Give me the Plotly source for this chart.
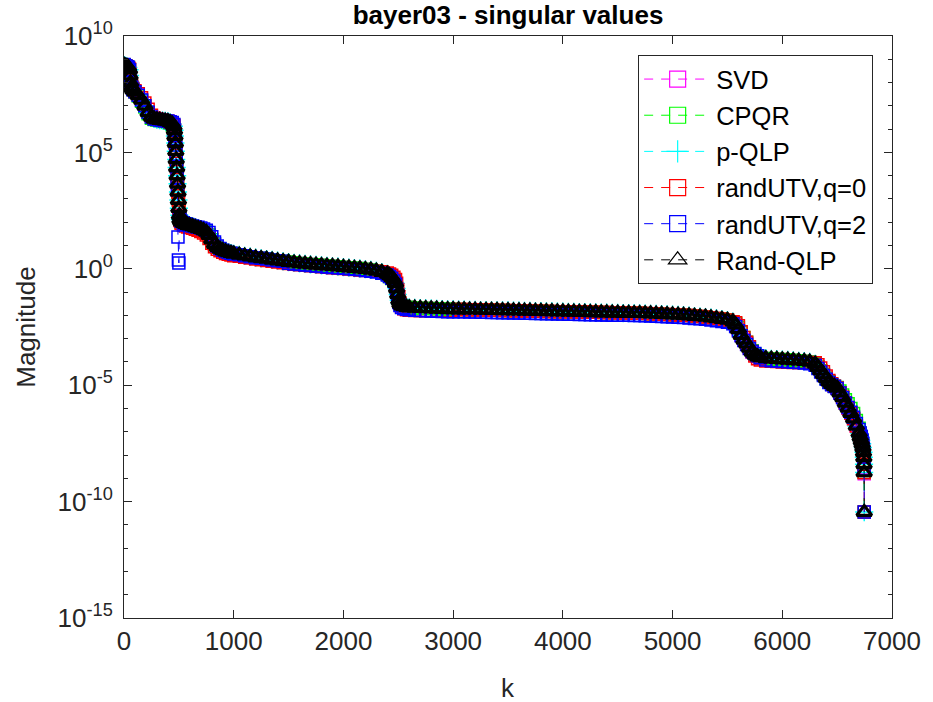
import plotly.graph_objects as go

k = [
    1, 10, 20, 30, 40, 50, 55, 60, 70, 80, 100, 130, 160, 190, 220, 250, 275, 300, 325, 350, 375, 400, 420, 440, 455,
    460, 464, 468, 472, 476, 480, 484, 488, 492, 496, 500, 505,
    510, 520, 540, 560, 580, 600, 625, 650, 675, 700, 725, 750, 775, 800, 825, 850, 875, 900, 925, 950, 975, 1000,
    1050, 1100, 1150, 1200, 1250, 1300, 1350, 1400, 1450, 1500, 1550, 1600, 1650, 1700, 1750, 1800, 1850, 1900,
    1950, 2000, 2050, 2100, 2150, 2200, 2250, 2300, 2350, 2400,
    2420, 2440, 2460, 2475, 2485, 2495, 2505, 2515, 2530, 2550, 2575, 2600,
    2650, 2700, 2750, 2800, 2850, 2900, 2950, 3000, 3050, 3100, 3150, 3200, 3250, 3300, 3350, 3400, 3450, 3500,
    3550, 3600, 3650, 3700, 3750, 3800, 3850, 3900, 3950, 4000, 4050, 4100, 4150, 4200, 4250, 4300, 4350, 4400,
    4450, 4500, 4550, 4600, 4650, 4700, 4750, 4800, 4850, 4900, 4950, 5000, 5050, 5100, 5150, 5200, 5250, 5300,
    5350, 5400, 5450, 5500, 5550,
    5575, 5600, 5625, 5650, 5675, 5700, 5725, 5750, 5775, 5800, 5850,
    5900, 5950, 6000, 6050, 6100, 6150, 6200, 6250, 6300,
    6325, 6350, 6375, 6400, 6425, 6450, 6475, 6500, 6525, 6550, 6575, 6600, 6625, 6650, 6675, 6700,
    6710, 6720, 6728, 6735, 6740, 6743, 6745, 6746, 6747,
]

# values are log10 of the singular value (exponent)
svd_log = [
    8.75, 8.72, 8.70, 8.68, 8.65, 8.55, 8.30, 8.00, 7.80, 7.70, 7.60, 7.45, 7.25, 7.00, 6.72, 6.52, 6.44, 6.41, 6.39, 6.37, 6.35, 6.33, 6.29, 6.23, 6.12,
    5.95, 5.70, 5.40, 5.05, 4.70, 4.35, 4.00, 3.65, 3.30, 2.95, 2.60, 2.30,
    2.12, 2.02, 1.96, 1.92, 1.88, 1.85, 1.82, 1.78, 1.74, 1.70, 1.65, 1.58, 1.45, 1.25, 1.06, 0.93, 0.85, 0.79, 0.74, 0.70, 0.67, 0.64,
    0.60, 0.56, 0.52, 0.48, 0.45, 0.42, 0.38, 0.35, 0.32, 0.29, 0.26, 0.23, 0.21, 0.19, 0.17, 0.15, 0.13, 0.11,
    0.09, 0.07, 0.05, 0.03, 0.01, -0.02, -0.05, -0.09, -0.14, -0.22,
    -0.28, -0.36, -0.48, -0.62, -0.85, -1.10, -1.35, -1.50, -1.58, -1.62, -1.65, -1.67,
    -1.68, -1.69, -1.70, -1.71, -1.72, -1.73, -1.74, -1.74, -1.75, -1.75, -1.76, -1.76, -1.77, -1.77, -1.78, -1.78, -1.79, -1.79,
    -1.80, -1.80, -1.81, -1.81, -1.82, -1.82, -1.83, -1.83, -1.84, -1.84, -1.85, -1.85, -1.86, -1.86, -1.87, -1.87, -1.88, -1.88,
    -1.89, -1.89, -1.90, -1.90, -1.91, -1.91, -1.92, -1.93, -1.94, -1.95, -1.96, -1.97, -1.98, -1.99, -2.01, -2.03, -2.05, -2.07,
    -2.10, -2.13, -2.16, -2.20, -2.27,
    -2.40, -2.60, -2.85, -3.05, -3.22, -3.40, -3.57, -3.70, -3.77, -3.81, -3.85,
    -3.87, -3.88, -3.90, -3.91, -3.93, -3.95, -3.97, -4.00, -4.08,
    -4.22, -4.38, -4.54, -4.70, -4.85, -4.96, -5.04, -5.12, -5.32, -5.52, -5.76, -5.98, -6.20, -6.44, -6.75, -7.05,
    -7.22, -7.38, -7.52, -7.68, -7.88, -8.10, -8.40, -8.55, -8.80,
]

cpqr_log = [
    8.75, 8.72, 8.70, 8.68, 8.65, 8.55, 8.30, 8.00, 7.80, 7.70, 7.60, 7.42, 7.20, 6.95, 6.66, 6.47, 6.41, 6.39, 6.37, 6.35, 6.33, 6.30, 6.25, 6.18, 6.05,
    5.95, 5.70, 5.40, 5.05, 4.70, 4.35, 4.00, 3.65, 3.30, 2.95, 2.60, 2.30,
    2.12, 2.02, 1.96, 1.92, 1.88, 1.85, 1.82, 1.78, 1.74, 1.70, 1.65, 1.58, 1.45, 1.25, 1.06, 0.93, 0.85, 0.79, 0.74, 0.70, 0.67, 0.64,
    0.60, 0.56, 0.52, 0.48, 0.45, 0.42, 0.38, 0.35, 0.32, 0.29, 0.26, 0.23, 0.21, 0.19, 0.17, 0.15, 0.13, 0.11,
    0.09, 0.07, 0.05, 0.03, 0.01, -0.02, -0.05, -0.09, -0.14, -0.22,
    -0.33, -0.42, -0.52, -0.65, -0.85, -1.10, -1.35, -1.50, -1.58, -1.62, -1.65, -1.67,
    -1.68, -1.69, -1.70, -1.71, -1.72, -1.73, -1.74, -1.74, -1.75, -1.75, -1.76, -1.76, -1.77, -1.77, -1.78, -1.78, -1.79, -1.79,
    -1.80, -1.80, -1.81, -1.81, -1.82, -1.82, -1.83, -1.83, -1.84, -1.84, -1.85, -1.85, -1.86, -1.86, -1.87, -1.87, -1.88, -1.88,
    -1.89, -1.89, -1.90, -1.90, -1.91, -1.91, -1.92, -1.93, -1.94, -1.95, -1.96, -1.97, -1.98, -1.99, -2.01, -2.03, -2.05, -2.07,
    -2.10, -2.13, -2.16, -2.20, -2.27,
    -2.35, -2.52, -2.72, -2.95, -3.15, -3.35, -3.52, -3.66, -3.75, -3.80, -3.85,
    -3.87, -3.88, -3.90, -3.91, -3.93, -3.95, -3.97, -4.00, -4.08,
    -4.22, -4.38, -4.54, -4.70, -4.85, -4.96, -5.04, -5.10, -5.25, -5.42, -5.62, -5.80, -6.00, -6.22, -6.52, -6.85,
    -7.05, -7.20, -7.40, -7.60, -7.85, -8.10, -8.40, -8.75, -10.45,
]

pqlp_log = [
    8.75, 8.72, 8.70, 8.68, 8.65, 8.55, 8.30, 8.00, 7.80, 7.70, 7.60, 7.45, 7.25, 7.00, 6.72, 6.52, 6.44, 6.41, 6.39, 6.37, 6.35, 6.33, 6.29, 6.23, 6.12,
    5.95, 5.70, 5.40, 5.05, 4.70, 4.35, 4.00, 3.65, 3.30, 2.95, 2.60, 2.30,
    2.12, 2.02, 1.96, 1.92, 1.88, 1.85, 1.82, 1.78, 1.74, 1.70, 1.65, 1.58, 1.45, 1.25, 1.06, 0.93, 0.85, 0.79, 0.74, 0.70, 0.67, 0.64,
    0.60, 0.56, 0.52, 0.48, 0.45, 0.42, 0.38, 0.35, 0.32, 0.29, 0.26, 0.23, 0.21, 0.19, 0.17, 0.15, 0.13, 0.11,
    0.09, 0.07, 0.05, 0.03, 0.01, -0.02, -0.05, -0.09, -0.14, -0.22,
    -0.28, -0.36, -0.48, -0.62, -0.85, -1.10, -1.35, -1.50, -1.58, -1.62, -1.65, -1.67,
    -1.68, -1.69, -1.70, -1.71, -1.72, -1.73, -1.74, -1.74, -1.75, -1.75, -1.76, -1.76, -1.77, -1.77, -1.78, -1.78, -1.79, -1.79,
    -1.80, -1.80, -1.81, -1.81, -1.82, -1.82, -1.83, -1.83, -1.84, -1.84, -1.85, -1.85, -1.86, -1.86, -1.87, -1.87, -1.88, -1.88,
    -1.89, -1.89, -1.90, -1.90, -1.91, -1.91, -1.92, -1.93, -1.94, -1.95, -1.96, -1.97, -1.98, -1.99, -2.01, -2.03, -2.05, -2.07,
    -2.10, -2.13, -2.16, -2.20, -2.27,
    -2.40, -2.60, -2.85, -3.05, -3.22, -3.40, -3.57, -3.70, -3.77, -3.81, -3.85,
    -3.87, -3.88, -3.90, -3.91, -3.93, -3.95, -3.97, -4.00, -4.08,
    -4.22, -4.38, -4.54, -4.70, -4.85, -4.96, -5.04, -5.12, -5.32, -5.52, -5.76, -5.98, -6.20, -6.44, -6.75, -7.05,
    -7.22, -7.38, -7.52, -7.68, -7.88, -8.10, -8.40, -8.75, -10.45,
]

rutv0_log = [
    8.75, 8.72, 8.70, 8.68, 8.65, 8.58, 8.35, 8.05, 7.85, 7.75, 7.65, 7.52, 7.35, 7.12, 6.85, 6.60, 6.48, 6.43, 6.40, 6.38, 6.36, 6.34, 6.31, 6.26, 6.16,
    5.95, 5.70, 5.40, 5.05, 4.70, 4.35, 4.00, 3.65, 3.30, 2.95, 2.60, 2.30,
    2.08, 1.96, 1.88, 1.84, 1.80, 1.77, 1.74, 1.70, 1.66, 1.60, 1.54, 1.45, 1.30, 1.10, 0.95, 0.84, 0.77, 0.71, 0.66, 0.62, 0.59, 0.56,
    0.54, 0.50, 0.46, 0.42, 0.39, 0.36, 0.32, 0.29, 0.26, 0.23, 0.20, 0.17, 0.15, 0.13, 0.11, 0.09, 0.07, 0.05,
    0.03, 0.01, -0.01, -0.03, -0.05, -0.07, -0.08, -0.10, -0.13, -0.18,
    -0.22, -0.28, -0.36, -0.46, -0.62, -0.90, -1.20, -1.48, -1.64, -1.72, -1.76, -1.78,
    -1.79, -1.79, -1.80, -1.80, -1.80, -1.80, -1.80, -1.79, -1.75, -1.75, -1.76, -1.76, -1.77, -1.77, -1.78, -1.78, -1.79, -1.79,
    -1.80, -1.80, -1.81, -1.81, -1.82, -1.82, -1.83, -1.83, -1.84, -1.84, -1.85, -1.85, -1.86, -1.86, -1.87, -1.87, -1.88, -1.88,
    -1.89, -1.89, -1.90, -1.90, -1.91, -1.91, -1.92, -1.93, -1.94, -1.95, -1.96, -1.97, -1.98, -1.99, -2.01, -2.03, -2.05, -2.07,
    -2.10, -2.13, -2.16, -2.20, -2.27,
    -2.32, -2.45, -2.70, -2.95, -3.15, -3.35, -3.55, -3.75, -3.86, -3.92, -3.96,
    -3.97, -3.98, -4.00, -4.01, -4.02, -4.02, -4.02, -4.03, -4.04,
    -4.12, -4.26, -4.42, -4.60, -4.80, -4.94, -5.04, -5.12, -5.32, -5.52, -5.76, -5.98, -6.20, -6.44, -6.75, -7.05,
    -7.22, -7.38, -7.52, -7.68, -7.88, -8.10, -8.40, -8.75, -10.45,
]

rutv2_log = [
    8.78, 8.72, 8.70, 8.68, 8.65, 8.55, 8.30, 8.00, 7.80, 7.70, 7.60, 7.45, 7.25, 7.00, 6.72, 6.52, 6.44, 6.41, 6.39, 6.37, 6.36, 6.35, 6.32, 6.28, 6.20,
    5.95, 5.60, 5.45, 5.20, 4.80, 4.40, 3.90, 3.40, 1.37, 0.38, 0.25, 2.25,
    2.14, 2.04, 1.98, 1.94, 1.90, 1.87, 1.84, 1.81, 1.78, 1.75, 1.71, 1.66, 1.56, 1.38, 1.15, 0.98, 0.87, 0.80, 0.74, 0.70, 0.67, 0.64,
    0.60, 0.56, 0.52, 0.48, 0.45, 0.42, 0.38, 0.35, 0.32, 0.24, 0.21, 0.18, 0.16, 0.14, 0.12, 0.10, 0.08, 0.06,
    0.04, 0.02, 0.00, -0.02, -0.04, -0.07, -0.10, -0.14, -0.19, -0.27,
    -0.33, -0.41, -0.52, -0.66, -0.88, -1.15, -1.45, -1.58, -1.66, -1.71, -1.74, -1.76,
    -1.78, -1.79, -1.80, -1.81, -1.82, -1.83, -1.84, -1.84, -1.85, -1.85, -1.86, -1.86, -1.87, -1.87, -1.88, -1.88, -1.89, -1.89,
    -1.90, -1.90, -1.91, -1.91, -1.92, -1.92, -1.93, -1.93, -1.94, -1.94, -1.95, -1.95, -1.96, -1.96, -1.97, -1.97, -1.98, -1.98,
    -1.99, -1.99, -2.00, -2.00, -2.01, -2.01, -2.02, -2.03, -2.04, -2.05, -2.06, -2.07, -2.08, -2.09, -2.11, -2.13, -2.15, -2.17,
    -2.20, -2.23, -2.26, -2.30, -2.36,
    -2.48, -2.66, -2.88, -3.08, -3.25, -3.42, -3.55, -3.64, -3.73, -3.82, -3.92,
    -3.95, -3.96, -3.98, -3.99, -4.01, -4.03, -4.05, -4.08, -4.14,
    -4.28, -4.43, -4.58, -4.74, -4.88, -4.98, -5.06, -5.14, -5.34, -5.54, -5.76, -5.96, -6.16, -6.38, -6.65, -6.90,
    -7.05, -7.20, -7.35, -7.50, -7.75, -8.00, -8.30, -8.60, -10.45,
]

randqlp_log = [
    8.75, 8.72, 8.70, 8.68, 8.65, 8.55, 8.30, 8.00, 7.80, 7.70, 7.60, 7.45, 7.25, 7.00, 6.72, 6.52, 6.44, 6.41, 6.39, 6.37, 6.35, 6.33, 6.29, 6.23, 6.12,
    5.95, 5.70, 5.40, 5.05, 4.70, 4.35, 4.00, 3.65, 3.30, 2.95, 2.60, 2.30,
    2.12, 2.02, 1.96, 1.92, 1.88, 1.85, 1.82, 1.78, 1.74, 1.70, 1.65, 1.58, 1.45, 1.25, 1.06, 0.93, 0.85, 0.79, 0.74, 0.70, 0.67, 0.64,
    0.60, 0.56, 0.52, 0.48, 0.45, 0.42, 0.38, 0.35, 0.32, 0.29, 0.26, 0.23, 0.21, 0.19, 0.17, 0.15, 0.13, 0.11,
    0.09, 0.07, 0.05, 0.03, 0.01, -0.02, -0.05, -0.09, -0.14, -0.22,
    -0.28, -0.36, -0.48, -0.62, -0.85, -1.10, -1.35, -1.50, -1.58, -1.62, -1.65, -1.67,
    -1.68, -1.69, -1.70, -1.71, -1.72, -1.73, -1.74, -1.74, -1.75, -1.75, -1.76, -1.76, -1.77, -1.77, -1.78, -1.78, -1.79, -1.79,
    -1.80, -1.80, -1.81, -1.81, -1.82, -1.82, -1.83, -1.83, -1.84, -1.84, -1.85, -1.85, -1.86, -1.86, -1.87, -1.87, -1.88, -1.88,
    -1.89, -1.89, -1.90, -1.90, -1.91, -1.91, -1.92, -1.93, -1.94, -1.95, -1.96, -1.97, -1.98, -1.99, -2.01, -2.03, -2.05, -2.07,
    -2.10, -2.13, -2.16, -2.20, -2.27,
    -2.40, -2.60, -2.85, -3.05, -3.22, -3.40, -3.57, -3.70, -3.77, -3.81, -3.85,
    -3.87, -3.88, -3.90, -3.91, -3.93, -3.95, -3.97, -4.00, -4.08,
    -4.22, -4.38, -4.54, -4.70, -4.85, -4.96, -5.04, -5.12, -5.32, -5.52, -5.76, -5.98, -6.20, -6.44, -6.75, -7.05,
    -7.22, -7.38, -7.52, -7.68, -7.88, -8.10, -8.40, -8.75, -10.45,
]

series_names = ["SVD", "CPQR", "p-QLP", "randUTV,q=0", "randUTV,q=2", "Rand-QLP"]
series_values = [svd_log, cpqr_log, pqlp_log, rutv0_log, rutv2_log, randqlp_log]
series_colors = ["#ff00ff", "#00ff00", "#00ffff", "#ff0000", "#0000ff", "#000000"]
series_symbols = ["square-open", "square-open", "cross-thin-open", "square-open", "square-open", "triangle-up-open"]
series_sizes = [12, 12, 13, 12, 12, 13]
# outline width used in the dense plot (the reference band is drawn by thousands of points)
series_plot_lw = [1.5, 1.5, 1.5, 1.5, 1.5, 3.2]

x_ticks = [0, 1000, 2000, 3000, 4000, 5000, 6000, 7000]
y_tick_exp = [-15, -10, -5, 0, 5, 10]

fig = go.Figure()
for name, vals, color, sym, size, lw in zip(series_names, series_values, series_colors,
                                            series_symbols, series_sizes, series_plot_lw):
    assert len(vals) == len(k), name
    fig.add_trace(go.Scatter(
        x=k, y=[10 ** v for v in vals], mode="lines+markers", name=name, showlegend=False,
        line=dict(color=color, width=1, dash="9px,8px"),
        marker=dict(symbol=sym, size=size, color=color, line=dict(color=color, width=lw)),
    ))

# legend entries (same styles, thin outlines as in the reference legend)
for name, color, sym in zip(series_names, series_colors, series_symbols):
    fig.add_trace(go.Scatter(
        x=[None], y=[None], mode="lines+markers", name=name, showlegend=True,
        line=dict(color=color, width=1, dash="9px,8px"),
        marker=dict(symbol=sym, size=16, color=color, line=dict(color=color, width=1.2)),
    ))

axis_color = "#262626"
font_family = "Liberation Sans, Arial, Helvetica, sans-serif"

fig.update_layout(
    width=933, height=702,
    margin=dict(l=124, r=35, t=36, b=84),
    paper_bgcolor="white", plot_bgcolor="white",
    font=dict(family=font_family, size=26, color=axis_color),
    title=dict(text="<b>bayer03 - singular values</b>", x=0.5, xref="paper", xanchor="center",
               y=1 - 15 / 702, yref="container", yanchor="middle",
               font=dict(size=26, color="black", family=font_family)),
    showlegend=True,
    legend=dict(x=(879 - 124) / 774, y=(618 - 55) / 582, xanchor="right", yanchor="top",
                bgcolor="white", bordercolor=axis_color, borderwidth=1,
                font=dict(size=25.5, color="black", family=font_family),
                itemwidth=67, tracegroupgap=0),
    xaxis=dict(range=[0, 7000], tickmode="array", tickvals=x_ticks,
               ticktext=[str(t) for t in x_ticks],
               ticks="inside", ticklen=8, tickwidth=1, tickcolor=axis_color,
               showline=True, linecolor=axis_color, linewidth=1, mirror="ticks",
               showgrid=False, zeroline=False, ticklabelstandoff=0),
    yaxis=dict(type="log", range=[-15, 10], tickmode="array",
               tickvals=[10.0 ** e for e in y_tick_exp],
               ticktext=["10<sup>%d</sup>" % e for e in y_tick_exp],
               ticks="inside", ticklen=8, tickwidth=1, tickcolor=axis_color,
               minor=dict(tickmode="array",
                          tickvals=[10.0 ** e for e in range(-15, 11) if e % 5 != 0],
                          ticks="inside", ticklen=4, tickcolor=axis_color, showgrid=False),
               showline=True, linecolor=axis_color, linewidth=1, mirror="ticks",
               showgrid=False, zeroline=False, ticklabelstandoff=5),
    annotations=[
        dict(text="Magnitude", xref="paper", yref="paper", x=(25 - 124) / 774, y=0.5,
             xanchor="center", yanchor="middle", textangle=-90, showarrow=False,
             font=dict(size=26, color=axis_color, family=font_family)),
        dict(text="k", xref="paper", yref="paper", x=0.5, y=(618 - 688) / 582,
             xanchor="center", yanchor="middle", showarrow=False,
             font=dict(size=26, color=axis_color, family=font_family)),
    ],
)

fig.write_html("out.html")
